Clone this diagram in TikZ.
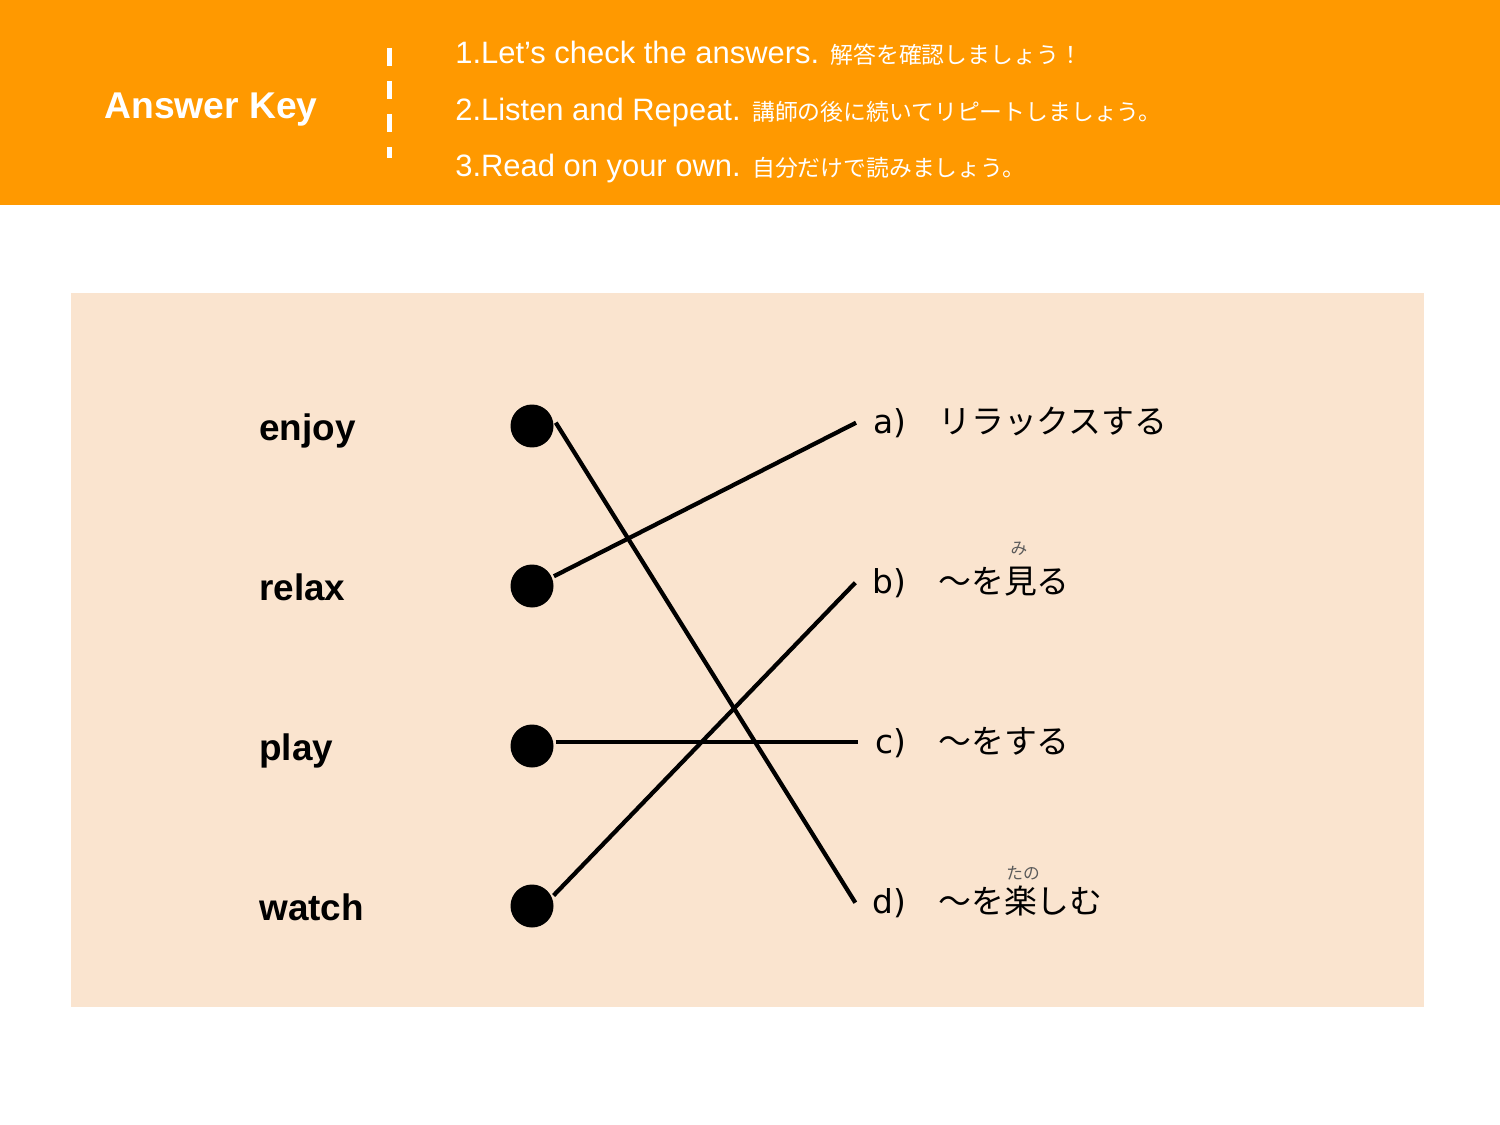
\documentclass[tikz,border=0pt]{standalone}
\usepackage{fontspec}
\setmainfont{Liberation Sans}
\newfontfamily\jpfont{Noto Sans CJK JP}
\newfontfamily\labfont{DejaVu Sans}
\usepackage{xcolor}
\definecolor{keyorange}{HTML}{FF9900}
\definecolor{panelbeige}{HTML}{FAE4CF}
\definecolor{rubygray}{HTML}{5A5A5A}
\newcommand{\jpsmall}[1]{{\jpfont\fontsize{13}{15}\selectfont #1}}

\begin{document}
\begin{tikzpicture}[x=0.02cm, y=-0.02cm,
% common options for the header lines:
item/.style = {anchor=base west, inner sep=0, text=white,
            font=\fontsize{17.6}{20}\selectfont},
% common options for the words:
word/.style = {anchor=base west, inner sep=0,
            font=\fontsize{21}{24}\selectfont\bfseries},
% common options for the points:
ball/.style = {circle, fill=black, inner sep=0, minimum size=0.86cm,
            outer sep=0.05cm},
% common options for the letters and meanings:
letter/.style = {anchor=base east, inner sep=0.04cm, outer sep=0.3cm,
            font=\labfont\fontsize{18.7}{22}\selectfont},
meaning/.style = {anchor=base west, inner sep=0,
            font=\jpfont\fontsize{18.7}{22}\selectfont},
ruby/.style = {anchor=base, inner sep=0, text=rubygray,
            font=\jpfont\fontsize{9.5}{11}\selectfont},
link/.style = {line width=0.085cm}]
\useasboundingbox (0,0) rectangle (1500,1125);
\fill[white] (0,0) rectangle (1500,1125);
% header
\fill[keyorange] (0,0) rectangle (1500,205);
\node[anchor=base west, inner sep=0, text=white,
      font=\fontsize{21.2}{24}\selectfont\bfseries] (H0) at (104,119) {Answer Key};
\draw[white, line width=0.1cm, dash pattern=on 0.36cm off 0.3cm] (389,48) -- (389,158);
\node[item] (H1) at (455,64) {1.Let’s check the answers. \jpsmall{解答を確認しましょう！}};
\node[item] (H2) at (455,121) {2.Listen and Repeat. \jpsmall{講師の後に続いてリピートしましょう。}};
\node[item] (H3) at (455,177) {3.Read on your own. \jpsmall{自分だけで読みましょう。}};
% panel
\fill[panelbeige] (71,293) rectangle (1424,1007);
\node[word] (W1) at (259,440) {enjoy};
\node[word] (W2) at (259,600) {relax};
\node[word] (W3) at (259,760) {play};
\node[word] (W4) at (259,920) {watch};
\node[ball] (P1) at (532,426) {};
\node[ball] (P2) at (532,586) {};
\node[ball] (P3) at (532,746) {};
\node[ball] (P4) at (532,906) {};
\node[letter] (L1) at (923,433) {a)};
\node[letter] (L2) at (923,593) {b)};
\node[letter] (L3) at (923,753) {c)};
\node[letter] (L4) at (923,913) {d)};
\node[meaning] (M1) at (938,433) {リラックスする};
\node[meaning] (M2) at (938,593) {～を見る};
\node[meaning] (M3) at (938,753) {～をする};
\node[meaning] (M4) at (938,913) {～を楽しむ};
\node[ruby] (R2) at (1019,554) {み};
\node[ruby] (R4) at (1023,879) {たの};
\draw[link] (P1.8) to (L4.west);
\draw[link] (P2.24) to (L1.west);
\draw[link] (P3.10) to (P3.10 -| L3.west);
\draw[link] (P4.26) to (L2.west);
\end{tikzpicture}
\end{document}
